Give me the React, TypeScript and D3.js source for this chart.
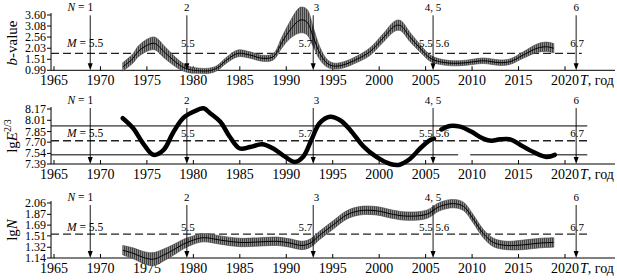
import React from "react";
import * as d3 from "d3";

// ---------- data ----------
const xTicks = [1965, 1970, 1975, 1980, 1985, 1990, 1995, 2000, 2005, 2010, 2015, 2020];

const bTicks = [0.99, 1.51, 2.03, 2.56, 3.08, 3.6];
const eTicks = [7.39, 7.54, 7.7, 7.85, 8.01, 8.17];
const nTicks = [1.14, 1.32, 1.51, 1.69, 1.87, 2.06];

const bYears = [1972.4, 1973.5, 1974.0, 1974.8, 1975.8, 1977.0, 1978.5, 1979.5, 1980.7, 1981.7, 1982.5, 1983.6, 1984.8, 1986.1, 1987.4, 1988.6, 1989.5, 1990.4, 1991.5, 1992.2, 1992.9, 1993.6, 1994.4, 1995.1, 1996.1, 1997.6, 1999.0, 2000.4, 2001.7, 2002.3, 2003.3, 2004.4, 2005.5, 2006.5, 2008.0, 2009.4, 2011.2, 2013.0, 2014.1, 2015.5, 2017.0, 2018.0, 2018.8];
const bValues = [1.15, 1.55, 1.85, 2.12, 2.26, 1.8, 1.24, 1.03, 0.97, 0.97, 1.08, 1.48, 1.79, 1.71, 1.56, 1.63, 2.28, 2.89, 3.36, 3.28, 2.57, 1.8, 1.32, 1.19, 1.24, 1.51, 1.87, 2.5, 3.08, 3.1, 2.57, 2.03, 1.56, 1.4, 1.32, 1.35, 1.44, 1.35, 1.4, 1.71, 2.03, 2.1, 2.03];
const bErrors = [0.2, 0.22, 0.25, 0.28, 0.3, 0.28, 0.2, 0.15, 0.12, 0.12, 0.12, 0.14, 0.16, 0.15, 0.14, 0.15, 0.25, 0.4, 0.6, 0.6, 0.45, 0.3, 0.18, 0.14, 0.14, 0.15, 0.18, 0.2, 0.24, 0.24, 0.22, 0.18, 0.15, 0.13, 0.12, 0.12, 0.13, 0.13, 0.13, 0.15, 0.2, 0.22, 0.22];

const eYearsA = [1972.4, 1973.5, 1974.6, 1975.7, 1976.8, 1977.8, 1978.9, 1980.0, 1981.1, 1981.8, 1982.9, 1983.9, 1985.0, 1986.1, 1987.4, 1988.6, 1989.9, 1990.9, 1991.8, 1992.7, 1993.6, 1994.7, 1995.8, 1996.9, 1998.3, 1999.7, 2001.2, 2002.2, 2003.3, 2004.4, 2005.5, 2005.9];
const eValuesA = [8.04, 7.9, 7.68, 7.52, 7.59, 7.83, 8.04, 8.13, 8.18, 8.11, 7.99, 7.78, 7.61, 7.63, 7.67, 7.61, 7.49, 7.42, 7.49, 7.73, 7.97, 8.06, 8.01, 7.87, 7.64, 7.49, 7.39, 7.38, 7.46, 7.61, 7.73, 7.75];
const eYearsB = [2006.7, 2007.6, 2008.7, 2009.9, 2011.2, 2012.1, 2013.0, 2014.1, 2015.2, 2016.6, 2018.0, 2018.9];
const eValuesB = [7.88, 7.93, 7.92, 7.85, 7.75, 7.72, 7.74, 7.74, 7.66, 7.56, 7.49, 7.52];
const eUpperLevel = 7.93;
const eLowerLevel = 7.52;
const eLowerSegments = [[1964.68, 2008.5], [2009.8, 2022.4]];

const nYears = [1972.4, 1973.5, 1974.6, 1975.7, 1976.8, 1977.8, 1978.9, 1980.0, 1981.1, 1982.9, 1985.0, 1987.2, 1989.0, 1990.4, 1991.7, 1992.6, 1993.6, 1995.1, 1996.5, 1997.9, 1999.7, 2001.5, 2003.0, 2005.1, 2006.5, 2008.0, 2009.1, 2010.1, 2011.2, 2012.3, 2013.7, 2015.5, 2017.3, 2018.8];
const nValues = [1.27, 1.22, 1.15, 1.12, 1.19, 1.27, 1.37, 1.44, 1.48, 1.44, 1.4, 1.41, 1.42, 1.39, 1.35, 1.39, 1.52, 1.7, 1.86, 1.93, 1.93, 1.87, 1.84, 1.87, 2.0, 2.05, 2.0, 1.8, 1.55, 1.4, 1.35, 1.36, 1.39, 1.4];
const nErrors = [0.08, 0.09, 0.1, 0.11, 0.1, 0.09, 0.08, 0.07, 0.07, 0.07, 0.07, 0.07, 0.07, 0.07, 0.07, 0.07, 0.07, 0.07, 0.07, 0.07, 0.07, 0.07, 0.07, 0.07, 0.07, 0.07, 0.07, 0.07, 0.07, 0.07, 0.07, 0.08, 0.08, 0.08];

const meanB = 1.79;
const meanE = 7.72;
const meanN = 1.54;

const arrowYears = [1968.9, 1979.3, 1992.9, 2005.8, 2021.2];
const arrowTop = ["1", "2", "3", "4, 5", "6"];
const arrowMag = ["5.5", "5.5", "5.7", "5.5 5.6", "6.7"];

// ---------- layout ----------
const W = 617, H = 280;
const FONT = "Liberation Serif, Times New Roman, serif";
const x = d3.scaleLinear().domain([1965, 2020]).range([54, 565]);
const X0 = x(1964.68);
const XEND = 615;

function Panel({ y, ticks, axisY, title, dashed, dashedEnd, children, topOff, magOff }: any) {
  return (
    <g>
      <line x1={X0} x2={X0} y1={y(ticks[ticks.length - 1]) - 2} y2={axisY} stroke="#000" strokeWidth={1} />
      {ticks.map((t: number) => (
        <g key={t}>
          <line x1={X0 - 4} x2={X0} y1={y(t)} y2={y(t)} stroke="#000" strokeWidth={1} />
          <text x={X0 - 5} y={y(t) + 4} textAnchor="end" fontSize={12} fontFamily={FONT}>{t.toFixed(2)}</text>
        </g>
      ))}
      <line x1={X0} x2={XEND} y1={axisY} y2={axisY} stroke="#000" strokeWidth={1} />
      {xTicks.map((t) => (
        <g key={t}>
          <line x1={x(t)} x2={x(t)} y1={axisY} y2={axisY - 4} stroke="#000" strokeWidth={1} />
          <text x={x(t)} y={axisY + 15} textAnchor="middle" fontSize={14} fontFamily={FONT}>{t}</text>
        </g>
      ))}
      <text x={580} y={axisY + 15} fontSize={14} fontFamily={FONT}>
        <tspan fontStyle="italic">T</tspan>, год
      </text>
      <line x1={X0} x2={x(dashedEnd)} y1={y(dashed)} y2={y(dashed)} stroke="#222" strokeWidth={1.3} strokeDasharray="8 4" />
      {children}
      {arrowYears.map((a, i) => {
        const ax = x(a);
        return (
          <g key={i}>
            <line x1={ax} x2={ax} y1={axisY + topOff + 4} y2={axisY - 5} stroke="#000" strokeWidth={0.9} />
            <path d={`M${ax - 2.5},${axisY - 7}L${ax + 2.5},${axisY - 7}L${ax},${axisY}Z`} fill="#000" />
            {i === 0 ? (
              <text x={ax + 3} y={axisY + topOff} textAnchor="end" fontSize={11.5} fontFamily={FONT}>
                <tspan fontStyle="italic">N</tspan> = 1
              </text>
            ) : i === 2 ? (
              <text x={ax + 0.5} y={axisY + topOff} textAnchor="start" fontSize={11} fontFamily={FONT}>{arrowTop[i]}</text>
            ) : (
              <text x={ax} y={axisY + topOff} textAnchor="middle" fontSize={11} fontFamily={FONT}>{arrowTop[i]}</text>
            )}
            {i === 0 ? (
              <text x={ax + 13} y={axisY + magOff} textAnchor="end" fontSize={11.5} fontFamily={FONT}>
                <tspan fontStyle="italic">M</tspan> = 5.5
              </text>
            ) : i === 2 ? (
              <text x={ax - 1} y={axisY + magOff} textAnchor="end" fontSize={11} fontFamily={FONT}>{arrowMag[i]}</text>
            ) : (
              <text x={ax + 1} y={axisY + magOff} textAnchor="middle" fontSize={11} fontFamily={FONT}>{arrowMag[i]}</text>
            )}
          </g>
        );
      })}
      {title}
    </g>
  );
}

function bandPaths(years: number[], vals: number[], errs: number[], y: any) {
  const area = d3.area<number>()
    .x((_, i) => x(years[i]))
    .y0((_, i) => y(vals[i] - errs[i]))
    .y1((_, i) => y(vals[i] + errs[i]))
    .curve(d3.curveCatmullRom);
  const line = d3.line<number>()
    .x((_, i) => x(years[i]))
    .y((_, i) => y(vals[i]))
    .curve(d3.curveCatmullRom);
  return { area: area(vals) || "", line: line(vals) || "" };
}

export default function App() {
  const y1 = d3.scaleLinear().domain([0.99, 3.6]).range([70.3, 15]);
  const y2 = d3.scaleLinear().domain([7.39, 8.17]).range([164, 109]);
  const y3 = d3.scaleLinear().domain([1.14, 2.06]).range([258, 203]);

  const b = bandPaths(bYears, bValues, bErrors, y1);
  const n = bandPaths(nYears, nValues, nErrors, y3);
  const mk = (yrs: number[], vals: number[]) =>
    d3.line<number>().x((_, i) => x(yrs[i])).y((v) => y2(v)).curve(d3.curveCatmullRom)(vals) || "";

  return (
    <svg width={W} height={H} style={{ position: "absolute", left: 0, top: 0, background: "#fff" }}>
      <defs>
        <pattern id="hatch" patternUnits="userSpaceOnUse" width={2} height={4}>
          <rect width={2} height={4} fill="#8c8c8c" />
          <line x1={0.5} x2={0.5} y1={0} y2={4} stroke="#3a3a3a" strokeWidth={0.9} />
        </pattern>
      </defs>

      <Panel y={y1} ticks={bTicks} axisY={70.3} dashed={meanB} dashedEnd={2021.8} topOff={-59} magOff={-23}
        title={
          <text transform="translate(17,43) rotate(-90)" textAnchor="middle" fontSize={15} fontFamily={FONT}>
            <tspan fontStyle="italic">b</tspan>-value
          </text>
        }>
        <path d={b.area} fill="url(#hatch)" stroke="#444" strokeWidth={0.6} />
        <path d={b.line} fill="none" stroke="#000" strokeWidth={1} />
      </Panel>

      <Panel y={y2} ticks={eTicks} axisY={164} dashed={meanE} dashedEnd={2022.4} topOff={-60} magOff={-27}
        title={
          <text transform="translate(17,136) rotate(-90)" textAnchor="middle" fontSize={15} fontFamily={FONT}>
            lg<tspan fontStyle="italic">E</tspan><tspan fontSize={10} dy={-6}>2/3</tspan>
          </text>
        }>
        <line x1={X0} x2={x(2022.4)} y1={y2(eUpperLevel)} y2={y2(eUpperLevel)} stroke="#000" strokeWidth={1} />
        {eLowerSegments.map((s, i) => (
          <line key={i} x1={x(s[0])} x2={x(s[1])} y1={y2(eLowerLevel)} y2={y2(eLowerLevel)} stroke="#000" strokeWidth={1} />
        ))}
        <path d={mk(eYearsA, eValuesA)} fill="none" stroke="#000" strokeWidth={4.5} strokeLinecap="round" />
        <path d={mk(eYearsB, eValuesB)} fill="none" stroke="#000" strokeWidth={4.5} strokeLinecap="round" />
      </Panel>

      <Panel y={y3} ticks={nTicks} axisY={258} dashed={meanN} dashedEnd={2022.4} topOff={-57} magOff={-27}
        title={
          <text transform="translate(17,230) rotate(-90)" textAnchor="middle" fontSize={15} fontFamily={FONT}>
            lg<tspan fontStyle="italic">N</tspan>
          </text>
        }>
        <path d={n.area} fill="url(#hatch)" stroke="#444" strokeWidth={0.6} />
        <path d={n.line} fill="none" stroke="#000" strokeWidth={1} />
      </Panel>
    </svg>
  );
}
